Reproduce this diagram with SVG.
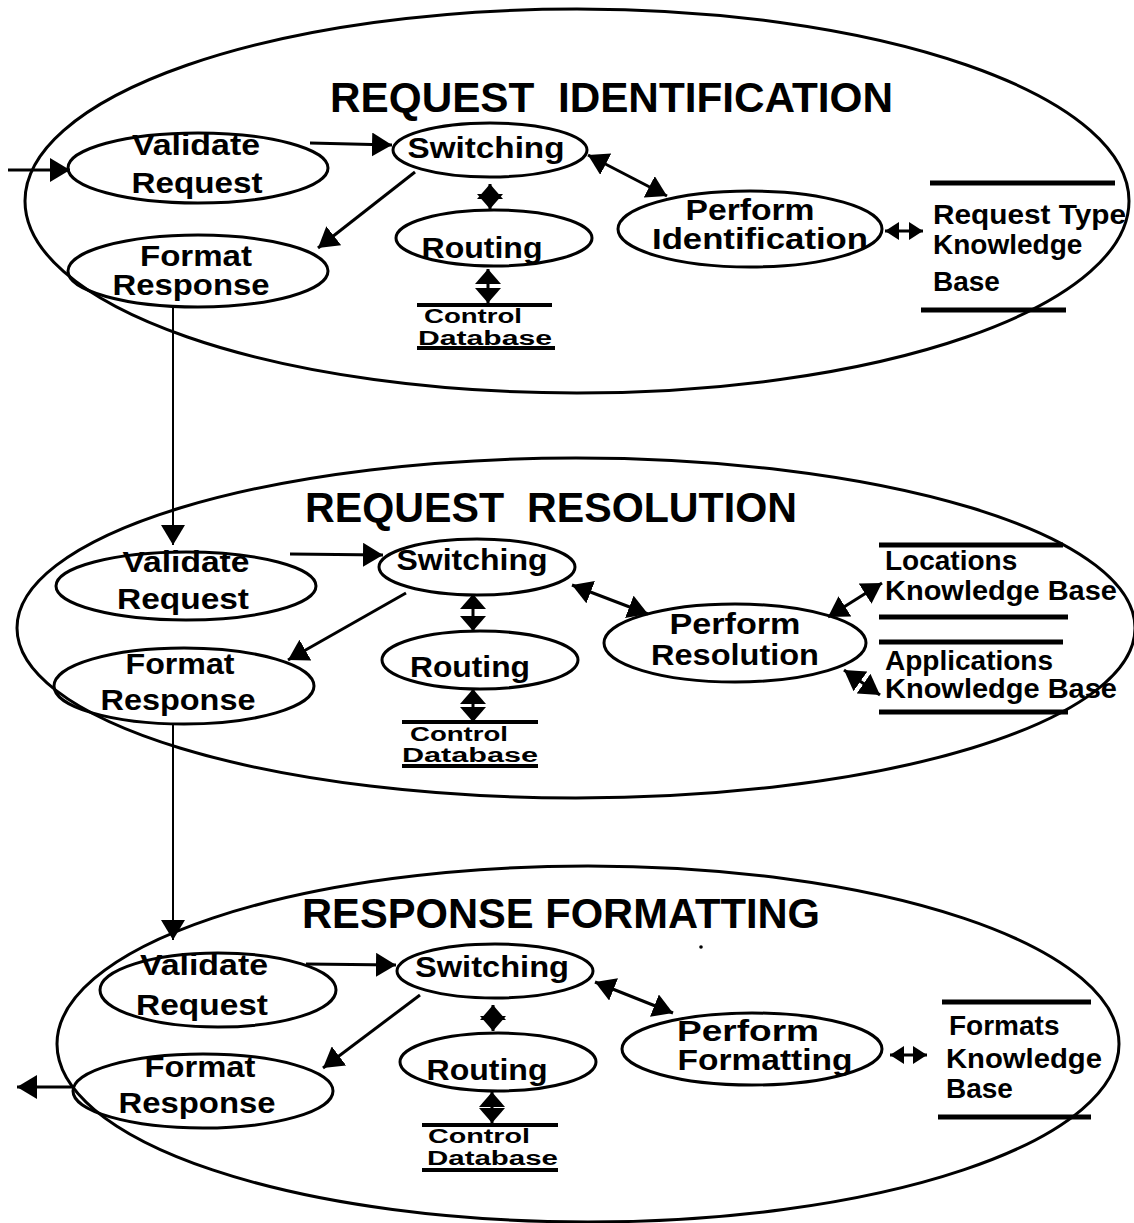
<svg xmlns="http://www.w3.org/2000/svg" width="1134" height="1223" viewBox="0 0 1134 1223">
  <defs>
    <!-- filled arrowheads; auto-start-reverse lets one marker serve both ends -->
    <marker id="ah" viewBox="0 0 20 24" refX="20" refY="12" markerWidth="20" markerHeight="24" markerUnits="userSpaceOnUse" orient="auto-start-reverse">
      <path d="M0,0 L20,12 L0,24 z" fill="#000"/>
    </marker>
    <marker id="ahv" viewBox="0 0 15 26" refX="15" refY="13" markerWidth="15" markerHeight="26" markerUnits="userSpaceOnUse" orient="auto-start-reverse">
      <path d="M0,0 L15,13 L0,26 z" fill="#000"/>
    </marker>
    <marker id="ahs" viewBox="0 0 14 18" refX="14" refY="9" markerWidth="14" markerHeight="18" markerUnits="userSpaceOnUse" orient="auto-start-reverse">
      <path d="M0,0 L14,9 L0,18 z" fill="#000"/>
    </marker>
  </defs>
  <style>
    .bg { fill: #fff; }
    .stage { fill: none; stroke: #000; stroke-width: 3; }
    .proc { fill: none; stroke: #000; stroke-width: 3; }
    .store { stroke: #000; stroke-width: 5; fill: none; }
    .db { stroke: #000; stroke-width: 4; fill: none; }
    .flow { fill: none; stroke: #000; stroke-width: 3; }
    .thin { fill: none; stroke: #000; stroke-width: 2; }
    .one { marker-end: url(#ah); }
    .two { marker-start: url(#ah); marker-end: url(#ah); }
    .twov { marker-start: url(#ahv); marker-end: url(#ahv); }
    .twos { marker-start: url(#ahs); marker-end: url(#ahs); }
    text { font-family: "Liberation Sans", Arial, Helvetica, sans-serif; font-weight: bold; fill: #000; }
    .title { font-size: 42px; white-space: pre; }
    .lbl { font-size: 29px; text-anchor: middle; }
    .kb { font-size: 28px; }
    .ctl { font-size: 20px; }
  </style>
  <rect class="bg" x="0" y="0" width="1134" height="1223"/>

  <!-- stage boundaries -->
  <g id="stage-identification">
    <ellipse class="stage" cx="577" cy="201" rx="552" ry="192"/>
    <text class="title" x="330" y="112" textLength="563" lengthAdjust="spacingAndGlyphs">REQUEST  IDENTIFICATION</text>
  </g>
  <g id="stage-resolution">
    <ellipse class="stage" cx="576" cy="628" rx="559" ry="170"/>
    <text class="title" x="305" y="522" textLength="492" lengthAdjust="spacingAndGlyphs">REQUEST  RESOLUTION</text>
  </g>
  <g id="stage-formatting">
    <ellipse class="stage" cx="588" cy="1044" rx="531" ry="178"/>
    <text class="title" x="302" y="928" textLength="518" lengthAdjust="spacingAndGlyphs">RESPONSE FORMATTING</text>
    <circle cx="701" cy="947" r="1.8" fill="#000"/>
  </g>

  <!-- stage 1: request identification -->
  <g id="validate-1">
    <ellipse class="proc" cx="198" cy="168" rx="130" ry="35"/>
    <text class="lbl" x="196" y="155" textLength="128" lengthAdjust="spacingAndGlyphs">Validate</text>
    <text class="lbl" x="197" y="193" textLength="131" lengthAdjust="spacingAndGlyphs">Request</text>
  </g>
  <g id="format-1">
    <ellipse class="proc" cx="198" cy="271" rx="130" ry="36"/>
    <text class="lbl" x="196" y="266" textLength="112" lengthAdjust="spacingAndGlyphs">Format</text>
    <text class="lbl" x="191" y="295" textLength="157" lengthAdjust="spacingAndGlyphs">Response</text>
  </g>
  <g id="switching-1">
    <ellipse class="proc" cx="490" cy="150" rx="97" ry="27"/>
    <text class="lbl" x="486" y="158" textLength="157" lengthAdjust="spacingAndGlyphs">Switching</text>
  </g>
  <g id="routing-1">
    <ellipse class="proc" cx="494" cy="238" rx="98" ry="28"/>
    <text class="lbl" x="482" y="258" textLength="121" lengthAdjust="spacingAndGlyphs">Routing</text>
  </g>
  <g id="control-db-1">
    <path class="db" d="M417,305 L552,305 M417,348 L555,348"/>
    <text class="ctl" x="424" y="323" textLength="98" lengthAdjust="spacingAndGlyphs">Control</text>
    <text class="ctl" x="418" y="345" textLength="134" lengthAdjust="spacingAndGlyphs">Database</text>
  </g>
  <g id="perform-identification">
    <ellipse class="proc" cx="750" cy="229" rx="132" ry="38"/>
    <text class="lbl" x="750" y="220" textLength="129" lengthAdjust="spacingAndGlyphs">Perform</text>
    <text class="lbl" x="760" y="249" textLength="216" lengthAdjust="spacingAndGlyphs">Identification</text>
  </g>
  <g id="request-type-kb">
    <path class="store" d="M930,183 L1115,183 M921,310 L1066,310"/>
    <text class="kb" x="933" y="224" textLength="193" lengthAdjust="spacingAndGlyphs">Request Type</text>
    <text class="kb" x="933" y="254">Knowledge</text>
    <text class="kb" x="933" y="291">Base</text>
  </g>

  <!-- stage 2: request resolution -->
  <g id="validate-2">
    <ellipse class="proc" cx="186" cy="586" rx="130" ry="34"/>
    <text class="lbl" x="186" y="572" textLength="127" lengthAdjust="spacingAndGlyphs">Validate</text>
    <text class="lbl" x="183" y="609" textLength="132" lengthAdjust="spacingAndGlyphs">Request</text>
  </g>
  <g id="format-2">
    <ellipse class="proc" cx="184" cy="686" rx="130" ry="38"/>
    <text class="lbl" x="180" y="674" textLength="109" lengthAdjust="spacingAndGlyphs">Format</text>
    <text class="lbl" x="178" y="710" textLength="155" lengthAdjust="spacingAndGlyphs">Response</text>
  </g>
  <g id="switching-2">
    <ellipse class="proc" cx="477" cy="567" rx="98" ry="28"/>
    <text class="lbl" x="472" y="570" textLength="151" lengthAdjust="spacingAndGlyphs">Switching</text>
  </g>
  <g id="routing-2">
    <ellipse class="proc" cx="480" cy="660" rx="98" ry="29"/>
    <text class="lbl" x="470" y="677" textLength="120" lengthAdjust="spacingAndGlyphs">Routing</text>
  </g>
  <g id="control-db-2">
    <path class="db" d="M402,722 L538,722 M402,766 L538,766"/>
    <text class="ctl" x="410" y="741" textLength="98" lengthAdjust="spacingAndGlyphs">Control</text>
    <text class="ctl" x="402" y="762" textLength="136" lengthAdjust="spacingAndGlyphs">Database</text>
  </g>
  <g id="perform-resolution">
    <ellipse class="proc" cx="735" cy="643" rx="131" ry="39"/>
    <text class="lbl" x="735" y="634" textLength="131" lengthAdjust="spacingAndGlyphs">Perform</text>
    <text class="lbl" x="735" y="665" textLength="168" lengthAdjust="spacingAndGlyphs">Resolution</text>
  </g>
  <g id="locations-kb">
    <path class="store" d="M879,545 L1063,545 M879,617 L1068,617"/>
    <text class="kb" x="885" y="570">Locations</text>
    <text class="kb" x="885" y="600" textLength="232" lengthAdjust="spacingAndGlyphs">Knowledge Base</text>
  </g>
  <g id="applications-kb">
    <path class="store" d="M879,642 L1063,642 M879,712 L1068,712"/>
    <text class="kb" x="885" y="670">Applications</text>
    <text class="kb" x="885" y="698" textLength="232" lengthAdjust="spacingAndGlyphs">Knowledge Base</text>
  </g>

  <!-- stage 3: response formatting -->
  <g id="validate-3">
    <ellipse class="proc" cx="218" cy="990" rx="118" ry="37"/>
    <text class="lbl" x="204" y="975" textLength="128" lengthAdjust="spacingAndGlyphs">Validate</text>
    <text class="lbl" x="202" y="1015" textLength="132" lengthAdjust="spacingAndGlyphs">Request</text>
  </g>
  <g id="format-3">
    <ellipse class="proc" cx="203" cy="1091" rx="130" ry="37"/>
    <text class="lbl" x="200" y="1077" textLength="111" lengthAdjust="spacingAndGlyphs">Format</text>
    <text class="lbl" x="197" y="1113" textLength="157" lengthAdjust="spacingAndGlyphs">Response</text>
  </g>
  <g id="switching-3">
    <ellipse class="proc" cx="495" cy="971" rx="98" ry="27"/>
    <text class="lbl" x="492" y="977" textLength="154" lengthAdjust="spacingAndGlyphs">Switching</text>
  </g>
  <g id="routing-3">
    <ellipse class="proc" cx="498" cy="1062" rx="98" ry="29"/>
    <text class="lbl" x="487" y="1080" textLength="121" lengthAdjust="spacingAndGlyphs">Routing</text>
  </g>
  <g id="control-db-3">
    <path class="db" d="M422,1125 L558,1125 M422,1170 L558,1170"/>
    <text class="ctl" x="428" y="1143" textLength="102" lengthAdjust="spacingAndGlyphs">Control</text>
    <text class="ctl" x="427" y="1165" textLength="131" lengthAdjust="spacingAndGlyphs">Database</text>
  </g>
  <g id="perform-formatting">
    <ellipse class="proc" cx="752" cy="1049" rx="130" ry="36"/>
    <text class="lbl" x="748" y="1041" textLength="142" lengthAdjust="spacingAndGlyphs">Perform</text>
    <text class="lbl" x="765" y="1070" textLength="175" lengthAdjust="spacingAndGlyphs">Formatting</text>
  </g>
  <g id="formats-kb">
    <path class="store" d="M942,1002 L1091,1002 M938,1117 L1091,1117"/>
    <text class="kb" x="949" y="1035">Formats</text>
    <text class="kb" x="946" y="1068" textLength="156" lengthAdjust="spacingAndGlyphs">Knowledge</text>
    <text class="kb" x="946" y="1098">Base</text>
  </g>

  <!-- connectors -->
  <g id="connectors">
    <!-- stage 1 -->
    <path class="flow one" d="M8,170 L70,170"/>
    <path class="flow one" d="M310,143 L392,145"/>
    <path class="flow one" d="M415,172 L318,248"/>
    <path class="flow twov" d="M490,184 L490,209"/>
    <path class="flow twov" d="M488,269 L488,303"/>
    <path class="flow two" d="M588,155 L667,196"/>
    <path class="flow twos" d="M885,231 L923,231"/>
    <path class="thin one" d="M173,307 L173,545"/>
    <!-- stage 2 -->
    <path class="flow one" d="M290,554 L383,555"/>
    <path class="flow one" d="M406,593 L288,660"/>
    <path class="flow twov" d="M473,594 L473,631"/>
    <path class="flow twov" d="M473,689 L473,722"/>
    <path class="flow two" d="M572,585 L648,614"/>
    <path class="flow two" d="M828,617 L882,583"/>
    <path class="flow two" d="M844,670 L880,695"/>
    <path class="thin one" d="M173,724 L173,940"/>
    <!-- stage 3 -->
    <path class="flow one" d="M306,964 L396,965"/>
    <path class="flow one" d="M420,995 L323,1068"/>
    <path class="flow twov" d="M493,1005 L493,1031"/>
    <path class="flow twov" d="M492,1092 L492,1123"/>
    <path class="flow two" d="M595,982 L673,1013"/>
    <path class="flow twos" d="M890,1055 L927,1055"/>
    <path class="flow one" d="M73,1087 L17,1087"/>
  </g>
</svg>
